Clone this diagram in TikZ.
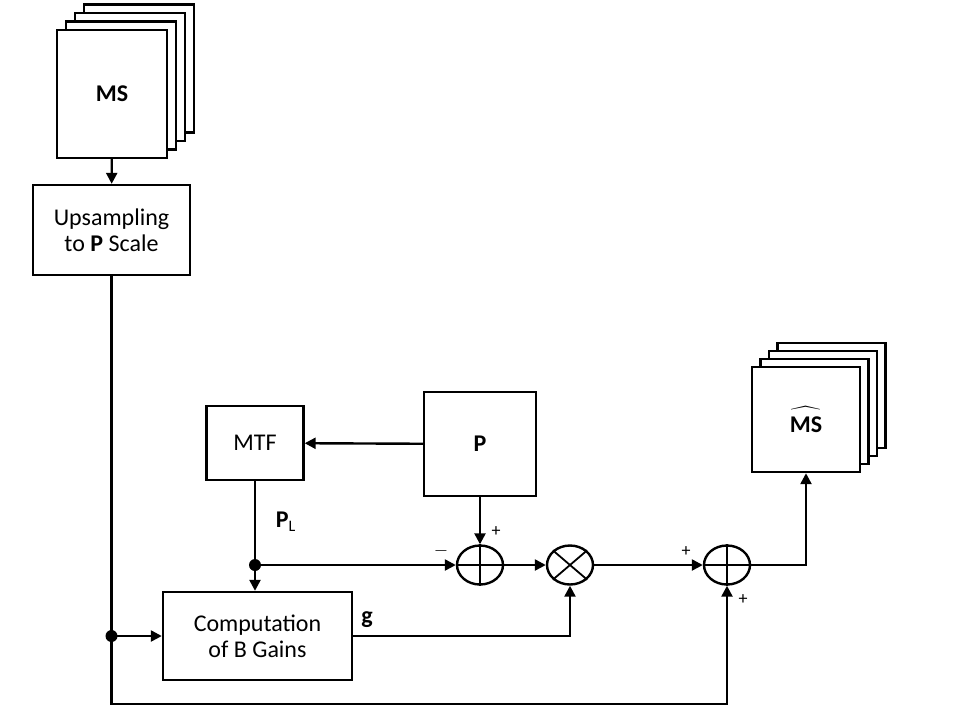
\documentclass[tikz,border=0pt]{standalone}
\usepackage{fontspec}
\setmainfont{Carlito}
\usetikzlibrary{arrows.meta,shapes.geometric}

\begin{document}
\begin{tikzpicture}[x=0.5pt,y=-0.5pt,line width=1.2pt,
  >={Triangle[length=5.5pt,width=5.5pt]}]
  \tikzset{block/.style={draw, fill=white, align=center, inner sep=0pt, font=\fontsize{12}{13}\selectfont},
    sumnode/.style={draw, ellipse, minimum width=23pt, minimum height=19.5pt, inner sep=0pt},
    sign/.style={font=\fontsize{9}{10}\selectfont}}
  \useasboundingbox (0,0) rectangle (960,720);
  % multispectral stack
  \foreach \k in {3,2,1}
    \draw[fill=white] (57+9*\k,30-8.5*\k) rectangle ++(110,128);
  \node[block, minimum width=55pt, minimum height=64pt] (ms) at (112,94) {\textbf{MS}};
  \node[block, minimum width=78.5pt, minimum height=45pt] (ups) at (111.5,230) {Upsampling\\to \textbf{P} Scale};
  \node[block, minimum width=48.5pt, minimum height=37pt] (mtf) at (255,443) {MTF};
  \node[block, minimum width=56pt, minimum height=52pt] (pan) at (480,444) {\textbf{P}};
  \node[block, minimum width=94.5pt, minimum height=44pt] (gain) at (257.5,636) {Computation\\of B Gains};
  % fused stack
  \foreach \k in {3,2,1}
    \draw[fill=white] (752+8.5*\k,367-8*\k) rectangle ++(108,105);
  \node[block, minimum width=54pt, minimum height=52.5pt] (mshat) at (806,419.5) {$\widehat{\mbox{\textbf{MS}}\rule{0pt}{9.5pt}}$};
  \node[sumnode] (sub) at (480,565) {};
  \node[sumnode] (mul) at (570,565) {};
  \node[sumnode] (add) at (727,565) {};
  \draw[line width=0.9pt] (sub.north) -- (sub.south) (sub.west) -- (sub.east);
  \draw[line width=0.9pt] (add.north) -- (add.south) (add.west) -- (add.east);
  \draw[line width=0.9pt] (mul.north east) -- (mul.south west) (mul.north west) -- (mul.south east);
  % connectors
  \coordinate (jl) at (mtf.south |- sub.west);
  \coordinate (ju) at (ups.south |- gain.west);
  \draw[->] (ms) -- (ups);
  \draw[->] (pan) -- (mtf);
  \draw (mtf) -- (jl);
  \draw[->] (jl) -- (jl |- gain.north);
  \draw[->] (jl) -- (sub);
  \draw[->] (pan) -- (sub);
  \draw[->] (sub) -- (mul);
  \draw[->] (mul) -- (add);
  \draw[->] (gain.east) -| (mul.south);
  \draw[->] (ups) |- (ju |- 0,704) -| (add.south);
  \draw[->] (ju) -- (gain.west);
  \draw[->] (add.east) -| (mshat.south);
  \fill (jl) circle (3pt) (ju) circle (3pt);
  % labels
  \node[block, draw=none, fill=none] (plab) at (286,522) {\textbf{P}\textsubscript{\fontsize{8}{9}\selectfont L}};
  \node[block, draw=none, fill=none] (glab) at (367,620) {\textbf{g}};
  \node[sign] (sm) at (441,551) {$-$};
  \node[sign] (sp) at (496,532) {+};
  \node[sign] (ap) at (686,552) {+};
  \node[sign] (bp) at (743,600) {+};
\end{tikzpicture}
\end{document}
